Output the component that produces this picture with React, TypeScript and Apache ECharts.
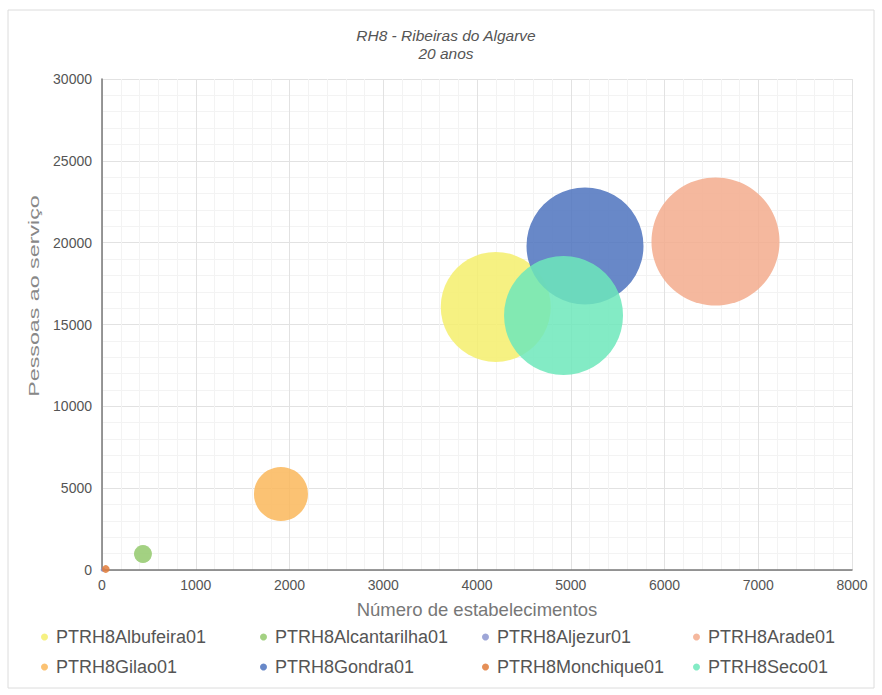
import React, { useEffect, useRef } from "react";
import * as echarts from "echarts";

// Massas de água da RH8 e respetivos indicadores a 20 anos
const bacias = [
  "PTRH8Albufeira01",
  "PTRH8Alcantarilha01",
  "PTRH8Aljezur01",
  "PTRH8Arade01",
  "PTRH8Gilao01",
  "PTRH8Gondra01",
  "PTRH8Monchique01",
  "PTRH8Seco01",
];
const estabelecimentos = [4200, 437, 10, 6544, 1909, 5152, 40, 4923];
const pessoasServico = [16070, 978, 20, 20070, 4644, 19800, 60, 15550];
const dimensao = [1210, 32, 2, 1640, 292, 1369, 6, 1416];
const cores = [
  "#f4ee6c",
  "#93c96c",
  "#8d97d0",
  "#f3ab8d",
  "#fab75b",
  "#4d73be",
  "#e07b39",
  "#6de8bb",
];

const titulo = "RH8 - Ribeiras do Algarve\n20 anos";
const nomeEixoX = "Número de estabelecimentos";
const nomeEixoY = "Pessoas ao serviço";
const eixoX = { min: 0, max: 8000, interval: 1000 };
const eixoY = { min: 0, max: 30000, interval: 5000 };

// Posições das entradas da legenda (duas linhas de quatro)
const legendaColunas = [41, 260, 482, 693];
const legendaLinhas = [628, 658];

const fonte = "Liberation Sans";

export default function App() {
  const ref = useRef<HTMLDivElement>(null);

  useEffect(() => {
    document.body.style.margin = "0";
    if (!ref.current) return;
    const chart = echarts.init(ref.current, undefined, { renderer: "svg" });

    const series = bacias.map((nome, i) => ({
      name: nome,
      type: "scatter",
      data: [[estabelecimentos[i], pessoasServico[i], dimensao[i]]],
      symbolSize: (v: number[]) => Math.sqrt(v[2]) * 3.162,
      itemStyle: { color: cores[i], opacity: 0.85 },
      emphasis: { disabled: true },
    }));

    const legends = bacias.map((nome, i) => ({
      data: [{ name: nome, icon: "circle" }],
      left: legendaColunas[i % 4],
      top: legendaLinhas[Math.floor(i / 4)],
      padding: 0,
      itemWidth: 7,
      itemHeight: 7,
      itemGap: 0,
      selectedMode: false,
      textStyle: {
        fontFamily: fonte,
        fontSize: 18,
        color: "#555",
        padding: [0, 0, 0, 3],
      },
    }));

    chart.setOption({
      animation: false,
      backgroundColor: "#fff",
      color: cores,
      graphic: [
        {
          type: "rect",
          shape: { x: 8, y: 10, width: 866, height: 678 },
          style: { fill: "none", stroke: "#dcdcdc", lineWidth: 1 },
          silent: true,
        },
        {
          // título do eixo vertical, alongado no sentido do texto
          type: "text",
          x: 34,
          y: 296,
          rotation: Math.PI / 2,
          scaleX: 1.55,
          silent: true,
          style: {
            text: nomeEixoY,
            fontFamily: fonte,
            fontSize: 15,
            fill: "#888",
            align: "center",
            verticalAlign: "middle",
          },
        },
      ],
      title: {
        text: titulo,
        left: 441,
        top: 21,
        textAlign: "center",
        textStyle: {
          fontFamily: fonte,
          fontSize: 15.5,
          fontStyle: "italic",
          fontWeight: "normal",
          color: "#555",
          lineHeight: 18,
        },
      },
      legend: legends,
      grid: { left: 102, right: 30, top: 79, bottom: 125, containLabel: false },
      xAxis: {
        type: "value",
        ...eixoX,
        name: nomeEixoX,
        nameLocation: "middle",
        nameGap: 30,
        nameTextStyle: { fontFamily: fonte, fontSize: 18.5, color: "#777" },
        axisLine: { show: true, onZero: false, lineStyle: { color: "#777", width: 1.5 } },
        axisTick: { show: false },
        axisLabel: {
          fontFamily: fonte,
          fontSize: 14,
          color: "#555",
          margin: 8,
          formatter: (v: number) => String(v),
        },
        splitLine: { show: true, lineStyle: { color: "#e2e2e2" } },
        minorTick: { show: false, splitNumber: 5 },
        minorSplitLine: { show: true, lineStyle: { color: "#f3f3f3" } },
      },
      yAxis: {
        type: "value",
        ...eixoY,
        axisLine: { show: true, onZero: false, lineStyle: { color: "#777", width: 1.5 } },
        axisTick: { show: false },
        axisLabel: {
          fontFamily: fonte,
          fontSize: 14,
          color: "#555",
          margin: 10,
          formatter: (v: number) => String(v),
        },
        splitLine: { show: true, lineStyle: { color: "#e2e2e2" } },
        minorTick: { show: false, splitNumber: 5 },
        minorSplitLine: { show: true, lineStyle: { color: "#f3f3f3" } },
      },
      series,
    });

    return () => chart.dispose();
  }, []);

  return <div ref={ref} style={{ width: 882, height: 695 }} />;
}
